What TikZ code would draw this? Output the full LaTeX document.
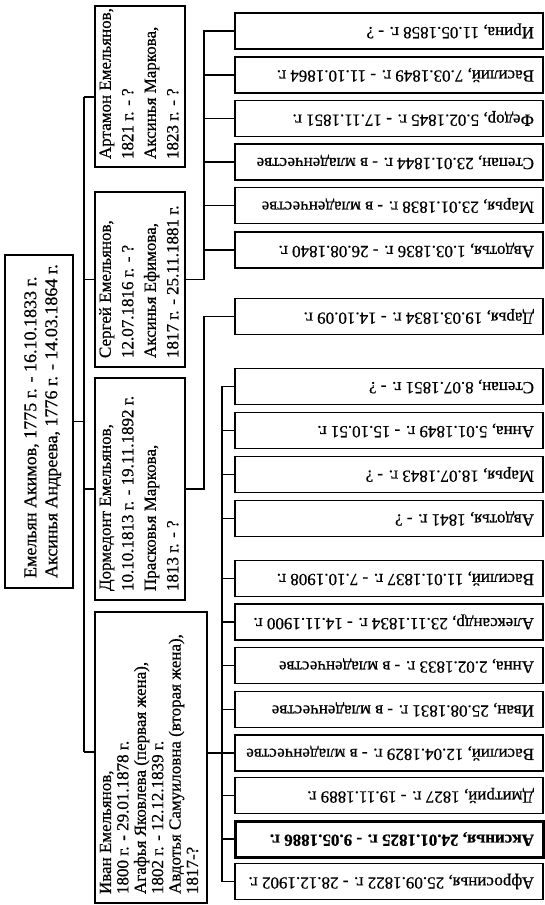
\documentclass[tikz,border=0pt]{standalone}
\usepackage{fontspec}
\setmainfont{Liberation Serif}
\newfontfamily\heavy{Liberation Serif}[FakeBold=0.6]
\usepackage{graphicx}
\newcommand\gtext[1]{\rotatebox{180}{\makebox[290pt][l]{\heavy\fontsize{17}{20}\selectfont #1}}}
\newcommand\ctext[3][22.5]{\rotatebox{90}{\makebox[#2][l]{\heavy\fontsize{17}{#1}\selectfont\begin{tabular}{@{}l@{}}#3\end{tabular}}}}
\begin{document}
\begin{tikzpicture}[x=1pt,y=-1pt,
  box/.style={draw=black, line width=1.2pt, inner sep=0pt, fill=white},
  gbox/.style={box, minimum width=308pt, minimum height=36pt},
  cbox/.style={box, minimum width=90pt},
  conn/.style={line width=1.2pt}]
\fill[white] (0,0) rectangle (545,905);
\useasboundingbox (0,0) rectangle (545,905);

% root
\node[box, line width=2.2pt, minimum width=68pt, minimum height=333pt] (root) at (39,421.5)
 {\hspace*{7pt}\rotatebox{90}{\makebox[313pt][l]{\heavy\fontsize{18}{21}\selectfont\begin{tabular}{@{}l@{}}Емельян Акимов, 1775 г. - 16.10.1833 г.\\Аксинья Андреева, 1776 г. - 14.03.1864 г.\end{tabular}}}};

% children
\node[cbox, minimum height=161pt] (art) at (140,86.5)
 {\ctext{145pt}{Артамон Емельянов,\\1821 г. - ?\\Аксинья Маркова,\\1823 г. - ?}};
\node[cbox, minimum height=175pt] (ser) at (140,279.5)
 {\ctext{157pt}{Сергей Емельянов,\\12.07.1816 г. - ?\\Аксинья Ефимова,\\1817 г. - 25.11.1881 г.}};
\node[cbox, minimum height=222pt] (dor) at (140,489)
 {\ctext{204pt}{Дормедонт Емельянов,\\10.10.1813 г. - 19.11.1892 г.\\Прасковья Маркова,\\1813 г. - ?}};
\node[box, line width=2pt, minimum width=112pt, minimum height=291pt] (ivan) at (151,757.5)
 {\ctext[17.4]{273pt}{Иван Емельянов,\\1800 г. - 29.01.1878 г.\\Агафья Яковлева (первая жена),\\1802 г. - 12.12.1839 г.\\Авдотья Самуиловна (вторая жена),\\1817-?}};

% grandchildren of Sergey
\node[gbox] (g1) at (389,31) {\gtext{Ирина, 11.05.1858 г. - ?}};
\node[gbox] (g2) at (389,75) {\gtext{Василий, 7.03.1849 г. - 11.10.1864 г.}};
\node[gbox] (g3) at (389,118.5) {\gtext{Федор, 5.02.1845 г. - 17.11.1851 г.}};
\node[gbox] (g4) at (389,162) {\gtext{Степан, 23.01.1844 г. - в младенчестве}};
\node[gbox] (g5) at (389,205.5) {\gtext{Марья, 23.01.1838 г. - в младенчестве}};
\node[gbox] (g6) at (389,250) {\gtext{Авдотья, 1.03.1836 г. - 26.08.1840 г.}};
% grandchild of Dormedont
\node[gbox] (d1) at (389,316.5) {\gtext{Дарья, 19.03.1834 г. - 14.10.09 г.}};
% grandchildren of Ivan
\node[gbox] (i1) at (389,386.5) {\gtext{Степан, 8.07.1851 г. - ?}};
\node[gbox] (i2) at (389,430.5) {\gtext{Анна, 5.01.1849 г. - 15.10.51 г.}};
\node[gbox] (i3) at (389,474.5) {\gtext{Марья, 18.07.1843 г. - ?}};
\node[gbox] (i4) at (389,518.5) {\gtext{Авдотья, 1841 г. - ?}};
\node[gbox] (i5) at (389,578.5) {\gtext{Василий, 11.01.1837 г. - 7.10.1908 г.}};
\node[gbox] (i6) at (389,622) {\gtext{Александр, 23.11.1834 г. - 14.11.1900 г.}};
\node[gbox] (i7) at (389,665.5) {\gtext{Анна, 2.02.1833 г. - в младенчестве}};
\node[gbox] (i8) at (389,709.5) {\gtext{Иван, 25.08.1831 г. - в младенчестве}};
\node[gbox] (i9) at (389,753) {\gtext{Василий, 12.04.1829 г. - в младенчестве}};
\node[gbox] (i10) at (389,795.5) {\gtext{Дмитрий, 1827 г. - 19.11.1889 г.}};
\node[gbox, line width=3pt] (i11) at (389,839) {\gtext{\textbf{Аксинья, 24.01.1825 г. - 9.05.1886 г.}}};
\node[gbox] (i12) at (389,881.5) {\gtext{Афросинья, 25.09.1822 г. - 28.12.1902 г.}};

% trunk coordinates
\coordinate (mt1) at (84,97);
\coordinate (mt2) at (84,752);
\coordinate (st) at (204,0);
\coordinate (it) at (222,0);

% main connectors
\draw[conn] (root.east) -- (root.east -| mt1);
\draw[conn] (mt1) -- (mt2);
\draw[conn] (mt1) -- (mt1 -| art.west);
\draw[conn] (ser.west -| mt1) -- (ser.west);
\draw[conn] (dor.west -| mt1) -- (dor.west);
\draw[conn] (mt2) -- (mt2 -| ivan.west);

% Sergey
\draw[conn] (ser.east) -- (ser.east -| st) -- (g1.west -| st) -- (g1.west);
\foreach \g in {g2,g3,g4,g5,g6} \draw[conn] (\g.west -| st) -- (\g.west);
% Dormedont
\draw[conn] (dor.east) -- (dor.east -| st) -- (d1.west -| st) -- (d1.west);
% Ivan
\draw[conn] (ivan.east |- i9.west) -- (i9.west -| it);
\draw[conn] (i1.west) -- (i1.west -| it) -- (i12.west -| it) -- (i12.west);
\foreach \g in {i2,i3,i4,i5,i6,i7,i8,i9,i10,i11} \draw[conn] (\g.west -| it) -- (\g.west);
\end{tikzpicture}
\end{document}
